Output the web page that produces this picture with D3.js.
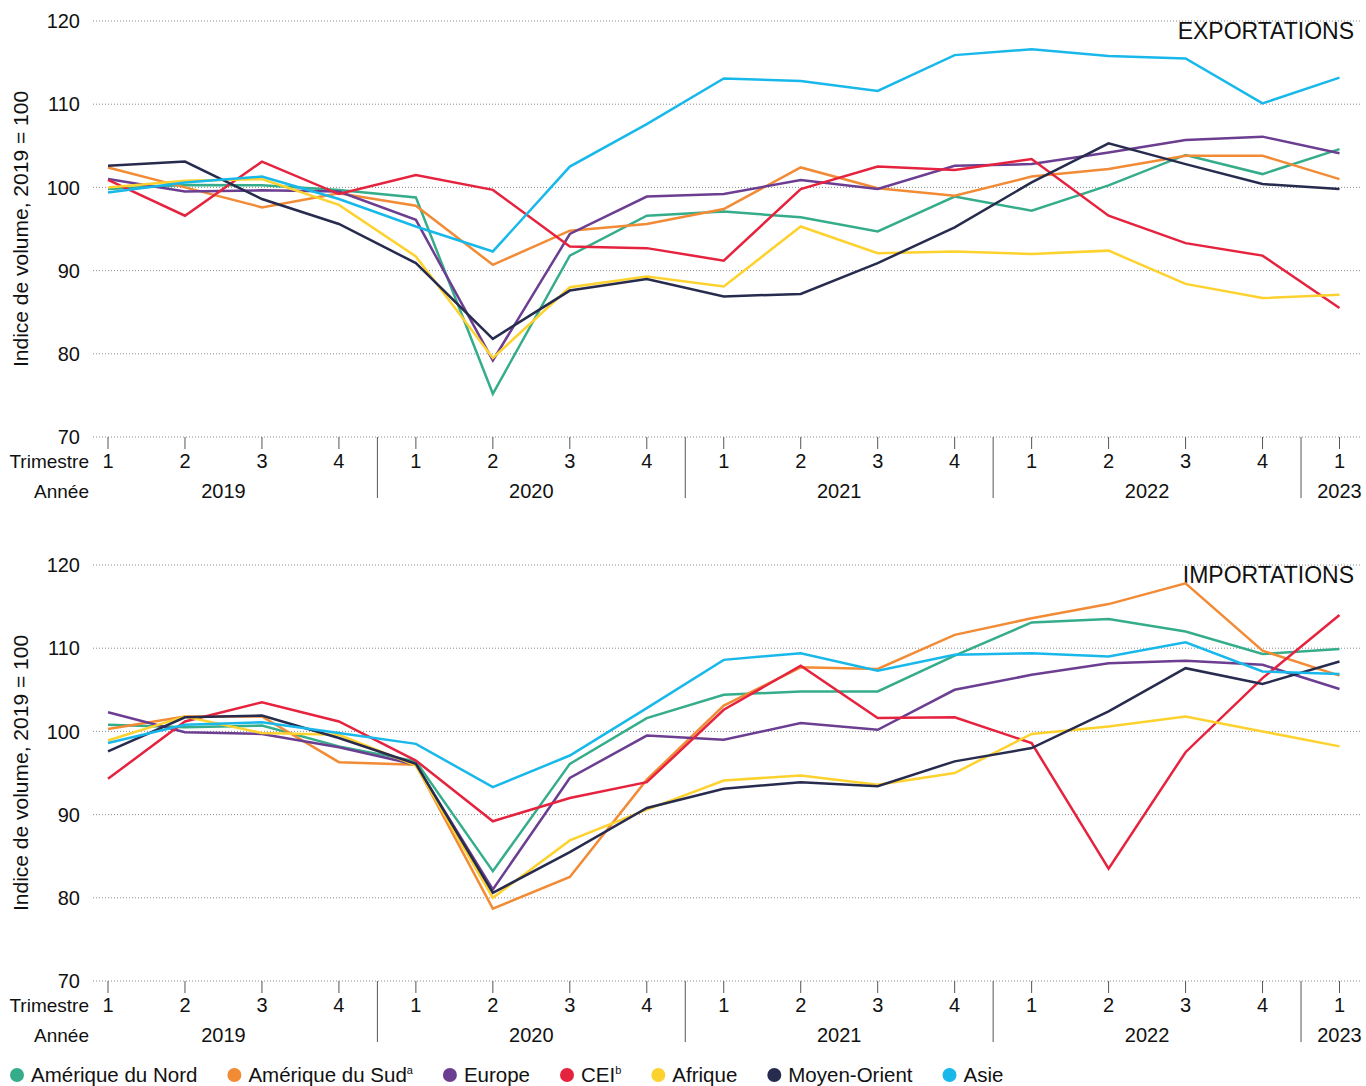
<!DOCTYPE html>
<html>
<head>
<meta charset="utf-8">
<script src="https://cdn.jsdelivr.net/npm/d3@7"></script>
<style>
  body { margin: 0; background: #fff; }
  svg { display: block; font-family: "Liberation Sans", Arial, sans-serif; }
  .grid-line { stroke: #8a8a8a; stroke-width: 1; stroke-dasharray: 1,2; }
  .tick-mark, .year-sep { stroke: #555; stroke-width: 1; }
  .rank-line { fill: none; stroke-width: 2.5; stroke-linejoin: miter; }
  text { fill: #111; }
</style>
</head>
<body>
<div id="chart"></div>
<script>
// quarters on the x axis
var quarters = ["1", "2", "3", "4", "1", "2", "3", "4", "1", "2", "3", "4", "1", "2", "3", "4", "1"];
var yearLabels = ["2019", "2020", "2021", "2022", "2023"];
var yearFirst = [0, 4, 8, 12, 16];
var yearLast = [3, 7, 11, 15, 16];
var yTicks = [70, 80, 90, 100, 110, 120];

var regions = ["Amérique du Nord", "Amérique du Sud", "Europe", "CEI", "Afrique", "Moyen-Orient", "Asie"];
var regionNotes = ["", "a", "", "b", "", "", ""];
var regionColours = ["#35ad8b", "#f28b35", "#6b3e91", "#e6233f", "#fed22e", "#272b4e", "#19b8ea"];

// exportations
var expNorthAmerica = [99.8, 100.3, 100.25, 99.7, 98.8, 75.2, 91.8, 96.6, 97.1, 96.4, 94.7, 98.9, 97.2, 100.25, 103.9, 101.6, 104.6];
var expSouthAmerica = [102.4, 100.0, 97.6, 99.3, 97.8, 90.7, 94.8, 95.6, 97.4, 102.4, 99.9, 99.0, 101.3, 102.2, 103.8, 103.8, 101.0];
var expEurope = [101.0, 99.5, 99.65, 99.5, 96.1, 79.2, 94.4, 98.9, 99.2, 100.9, 99.8, 102.6, 102.8, 104.2, 105.7, 106.1, 104.1];
var expCIS = [100.9, 96.6, 103.1, 99.2, 101.5, 99.7, 92.9, 92.7, 91.2, 99.8, 102.5, 102.1, 103.4, 96.6, 93.3, 91.8, 85.5];
var expAfrica = [100.0, 100.8, 101.0, 97.9, 91.7, 79.5, 88.0, 89.3, 88.1, 95.3, 92.1, 92.3, 92.0, 92.4, 88.4, 86.7, 87.1];
var expMiddleEast = [102.6, 103.1, 98.6, 95.6, 90.9, 81.8, 87.6, 89.0, 86.9, 87.2, 90.9, 95.2, 100.6, 105.3, 102.8, 100.4, 99.8];
var expAsia = [99.4, 100.6, 101.3, 98.6, 95.3, 92.3, 102.5, 107.6, 113.1, 112.8, 111.6, 115.9, 116.6, 115.8, 115.5, 110.1, 113.2];

// importations
var impNorthAmerica = [100.8, 100.5, 100.7, 98.2, 96.4, 83.2, 96.1, 101.6, 104.4, 104.8, 104.8, 109.1, 113.1, 113.5, 112.0, 109.3, 109.9];
var impSouthAmerica = [100.3, 101.8, 101.8, 96.3, 96.0, 78.7, 82.5, 94.2, 103.1, 107.7, 107.5, 111.6, 113.6, 115.3, 117.8, 109.7, 106.7];
var impEurope = [102.3, 99.9, 99.7, 98.1, 96.0, 81.0, 94.4, 99.5, 99.0, 101.0, 100.2, 105.0, 106.8, 108.2, 108.5, 108.0, 105.1];
var impCIS = [94.3, 101.2, 103.5, 101.2, 96.5, 89.2, 92.0, 93.9, 102.6, 107.9, 101.6, 101.7, 98.6, 83.5, 97.5, 106.4, 114.0];
var impAfrica = [98.9, 101.8, 99.8, 99.6, 95.9, 80.0, 86.9, 90.6, 94.1, 94.7, 93.6, 95.0, 99.7, 100.6, 101.8, 100.0, 98.2];
var impMiddleEast = [97.6, 101.7, 101.9, 99.2, 96.1, 80.6, 85.5, 90.8, 93.1, 93.9, 93.4, 96.4, 98.0, 102.4, 107.6, 105.7, 108.4];
var impAsia = [98.6, 100.8, 101.1, 99.8, 98.5, 93.3, 97.1, 102.8, 108.6, 109.4, 107.3, 109.2, 109.4, 109.0, 110.7, 107.2, 106.9];

var exportSeries = [expNorthAmerica, expSouthAmerica, expEurope, expCIS, expAfrica, expMiddleEast, expAsia];
var importSeries = [impNorthAmerica, impSouthAmerica, impEurope, impCIS, impAfrica, impMiddleEast, impAsia];

var W = 1366, H = 1086;
var svg = d3.select("#chart").append("svg")
    .attr("width", W)
    .attr("height", H);

var x = d3.scalePoint()
    .domain(d3.range(quarters.length))
    .range([108, 1339.5]);

function drawPanel(top, bottom, title, series) {
    var g = svg.append("g");
    var y = d3.scaleLinear()
        .domain([70, 120])
        .range([bottom, top]);

    // dotted grid
    g.append("g").selectAll("line")
        .data(yTicks)
        .enter().append("line")
        .attr("class", "grid-line")
        .attr("x1", 93)
        .attr("x2", 1362)
        .attr("y1", function(d) { return y(d); })
        .attr("y2", function(d) { return y(d); });

    g.append("g").selectAll("text")
        .data(yTicks)
        .enter().append("text")
        .attr("x", 80)
        .attr("y", function(d) { return y(d); })
        .attr("dy", "0.36em")
        .attr("text-anchor", "end")
        .style("font-size", "20px")
        .text(function(d) { return d; });

    g.append("text")
        .attr("transform", "translate(" + [28, (top + bottom) / 2] + ") rotate(-90)")
        .attr("text-anchor", "middle")
        .style("font-size", "21px")
        .text("Indice de volume, 2019 = 100");

    g.append("text")
        .attr("x", 1354)
        .attr("y", top + 18)
        .attr("text-anchor", "end")
        .style("font-size", "23px")
        .text(title);

    // quarter ticks and labels
    var xg = g.append("g");
    xg.selectAll("line")
        .data(quarters)
        .enter().append("line")
        .attr("class", "tick-mark")
        .attr("x1", function(d, i) { return x(i); })
        .attr("x2", function(d, i) { return x(i); })
        .attr("y1", bottom)
        .attr("y2", bottom + 12);
    xg.selectAll("text.q")
        .data(quarters)
        .enter().append("text")
        .attr("class", "q")
        .attr("x", function(d, i) { return x(i); })
        .attr("y", bottom + 31)
        .attr("text-anchor", "middle")
        .style("font-size", "20px")
        .text(function(d) { return d; });
    xg.append("text")
        .attr("x", 89)
        .attr("y", bottom + 31)
        .attr("text-anchor", "end")
        .style("font-size", "19px")
        .text("Trimestre");
    xg.append("text")
        .attr("x", 89)
        .attr("y", bottom + 61)
        .attr("text-anchor", "end")
        .style("font-size", "19px")
        .text("Année");
    xg.selectAll("text.yr")
        .data(yearLabels)
        .enter().append("text")
        .attr("class", "yr")
        .attr("x", function(d, i) { return (x(yearFirst[i]) + x(yearLast[i])) / 2; })
        .attr("y", bottom + 61)
        .attr("text-anchor", "middle")
        .style("font-size", "20px")
        .text(function(d) { return d; });
    xg.selectAll("line.year-sep")
        .data(yearFirst.slice(1))
        .enter().append("line")
        .attr("class", "year-sep")
        .attr("x1", function(d) { return (x(d) + x(d - 1)) / 2; })
        .attr("x2", function(d) { return (x(d) + x(d - 1)) / 2; })
        .attr("y1", bottom)
        .attr("y2", bottom + 61);

    var line = d3.line()
        .x(function(d, i) { return x(i); })
        .y(function(d) { return y(d); });

    g.append("g").selectAll("path")
        .data(series)
        .enter().append("path")
        .attr("class", "rank-line")
        .attr("d", function(d) { return line(d); })
        .style("stroke", function(d, i) { return regionColours[i]; });
}

drawPanel(21, 437, "EXPORTATIONS", exportSeries);
drawPanel(565, 981, "IMPORTATIONS", importSeries);

// legend
var legend = svg.append("g");
var lx = 17;
regions.forEach(function(name, i) {
    var item = legend.append("g");
    item.append("circle")
        .attr("cx", lx)
        .attr("cy", 1075)
        .attr("r", 7)
        .style("fill", regionColours[i]);
    var t = item.append("text")
        .attr("x", lx + 14)
        .attr("y", 1082)
        .style("font-size", "20.5px")
        .text(name);
    if (regionNotes[i]) {
        t.append("tspan")
            .attr("dy", -8)
            .style("font-size", "11px")
            .text(regionNotes[i]);
    }
    lx = lx + 14 + t.node().getComputedTextLength() + 37;
});
</script>
</body>
</html>
